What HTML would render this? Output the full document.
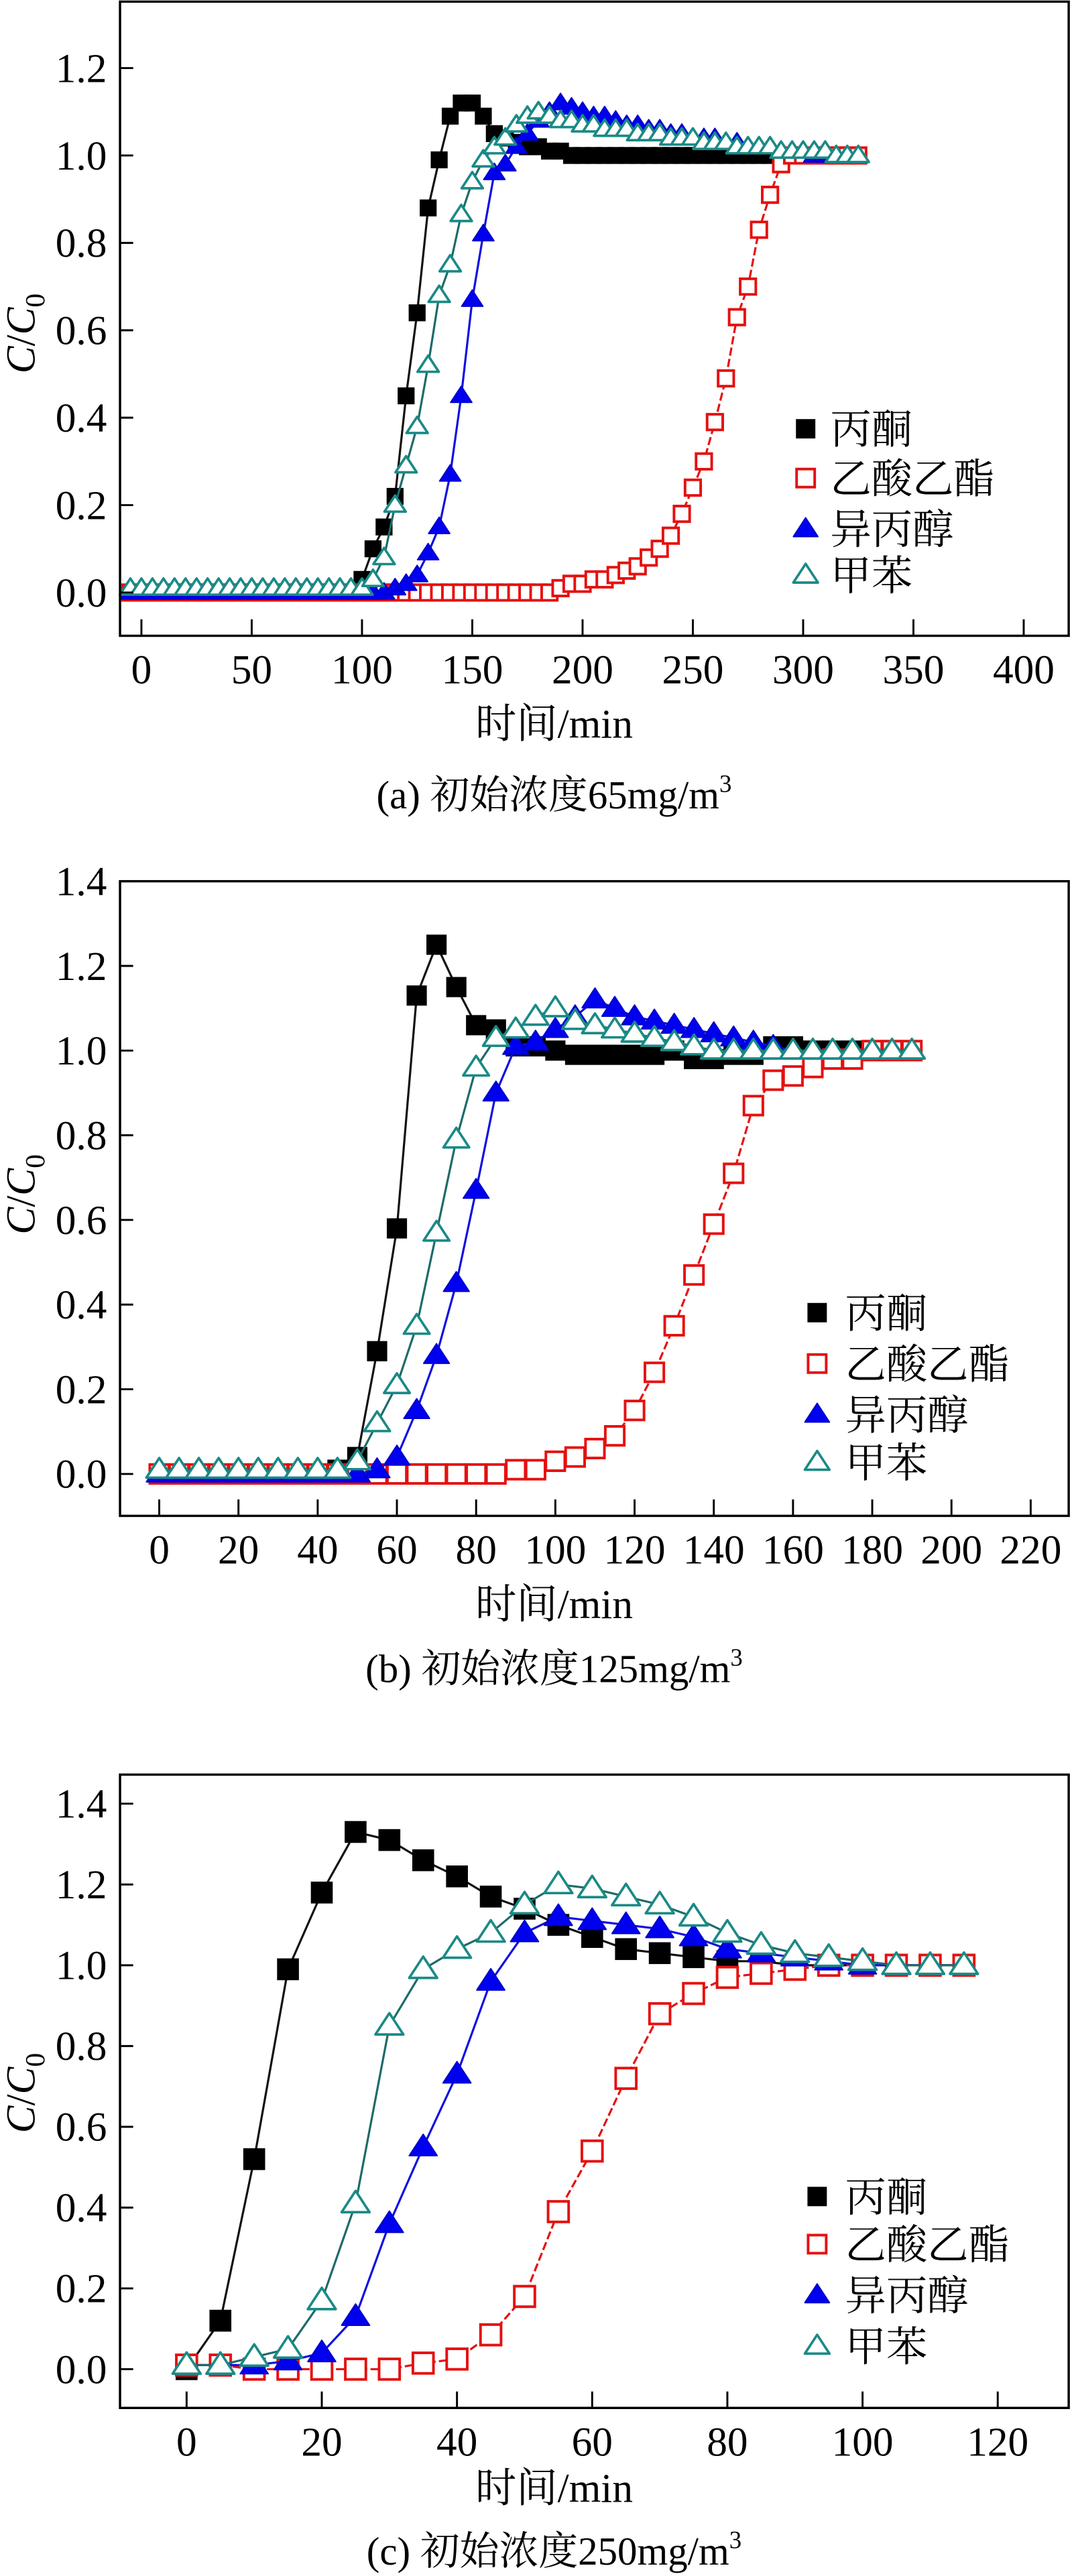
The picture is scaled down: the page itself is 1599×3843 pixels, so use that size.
<!DOCTYPE html>
<html><head><meta charset="utf-8"><title>Breakthrough curves</title>
<style>
html,body{margin:0;padding:0;background:#fff;}
svg{display:block;}
text{font-family:"Liberation Serif","Noto Serif CJK SC",serif;fill:#000;}
</style></head>
<body>
<svg id="fig" width="1599" height="3843" viewBox="0 0 652 1568" preserveAspectRatio="none" xmlns="http://www.w3.org/2000/svg"></svg>
<script>
// ---------- Panel (a) 65 mg/m3 ----------
const timesA = [-5,0,5,10,15,20,25,30,35,40,45,50,55,60,65,70,75,80,85,90,95,100,105,110,115,120,125,130,135,140,145,150,155,160,165,170,175,180,185,190,195,200,205,210,215,220,225,230,235,240,245,250,255,260,265,270,275,280,285,290,295,300,305,310,315,320,325];
const acetoneA = [0,0,0,0,0,0,0,0,0,0,0,0,0,0,0,0,0,0,0,0,0,
 0.03,0.1,0.15,0.22,0.45,0.64,0.88,0.99,1.09,1.12,1.12,1.09,1.05,1.04,1.03,1.02,1.02,1.01,1.01,1.0,
 1.0,1.0,1.0,1.0,1.0,1.0,1.0,1.0,1.0,1.0,1.0,1.0,1.0,1.0,1.0,1.0,1.0,1.0,1.0,1.0,1.0,1.0,1.0,1.0,1.0,1.0];
const ethylAcetateA = [0,0,0,0,0,0,0,0,0,0,0,0,0,0,0,0,0,0,0,0,0,0,0,0,0,0,0,0,0,0,0,0,0,0,0,0,0,0,0,
 0.01,0.02,0.02,0.03,0.03,0.04,0.05,0.06,0.08,0.1,0.13,0.18,0.24,0.3,0.39,0.49,0.63,0.7,0.83,0.91,0.98,
 1.0,1.0,1.0,1.0,1.0,1.0,1.0];
const isopropanolA = [0,0,0,0,0,0,0,0,0,0,0,0,0,0,0,0,0,0,0,0,0,0,0,0,
 0.01,0.02,0.04,0.09,0.15,0.27,0.45,0.67,0.82,0.96,0.98,1.02,1.05,1.08,1.1,1.12,
 1.11,1.1,1.09,1.09,1.08,1.07,1.07,1.06,1.06,1.05,1.05,1.04,1.04,1.04,1.03,1.03,1.02,1.02,1.02,1.01,1.01,1.01,1.0,1.0,1.0,1.0,1.0];
const tolueneA = [0.01,0.01,0.01,0.01,0.01,0.01,0.01,0.01,0.01,0.01,0.01,0.01,0.01,0.01,0.01,0.01,0.01,0.01,0.01,0.01,0.01,0.01,
 0.03,0.08,0.2,0.29,0.38,0.52,0.68,0.75,0.865,0.94,0.99,1.02,1.04,1.07,1.09,1.1,1.09,1.08,
 1.08,1.07,1.07,1.06,1.06,1.06,1.05,1.05,1.05,1.04,1.04,1.04,1.03,1.03,1.03,1.02,1.02,1.02,1.02,1.01,1.01,1.01,1.01,1.01,1.0,1.0,1.0];
const xTicksA = [0,50,100,150,200,250,300,350,400];
const yTicksA = [0.0,0.2,0.4,0.6,0.8,1.0,1.2];

// ---------- Panel (b) 125 mg/m3 ----------
const timesB = [0,5,10,15,20,25,30,35,40,45,50,55,60,65,70,75,80,85,90,95,100,105,110,115,120,125,130,135,140,145,150,155,160,165,170,175,180,185,190];
const acetoneB = [0,0,0,0,0,0,0,0,0,0.01,
 0.04,0.29,0.58,1.13,1.25,1.15,1.06,1.05,1.01,1.01,1.0,0.99,0.99,0.99,0.99,0.99,1.0,0.98,0.98,0.99,0.99,1.01,1.01,1.0,1.0,1.0,1.0,1.0,1.0];
const ethylAcetateB = [0,0,0,0,0,0,0,0,0,0,0,0,0,0,0,0,0,0,
 0.01,0.01,0.03,0.04,0.06,0.09,0.15,0.24,0.35,0.47,0.59,0.71,0.87,0.93,0.94,0.96,0.98,0.98,1.0,1.0,1.0];
const isopropanolB = [0,0,0,0,0,0,0,0,0,0,
 0.0,0.01,0.04,0.15,0.28,0.45,0.67,0.9,1.01,1.02,1.05,1.08,1.12,1.1,1.08,1.07,1.06,1.05,1.04,1.03,1.02,1.01,1.0,1.0,1.0,1.0,1.0,1.0,1.0];
const tolueneB = [0.01,0.01,0.01,0.01,0.01,0.01,0.01,0.01,0.01,
 0.01,0.03,0.12,0.21,0.35,0.57,0.79,0.96,1.03,1.05,1.08,1.1,1.07,1.06,1.05,1.04,1.03,1.02,1.01,1.0,
 1.0,1.0,1.0,1.0,1.0,1.0,1.0,1.0,1.0,1.0];
const xTicksB = [0,20,40,60,80,100,120,140,160,180,200,220];
const yTicksB = [0.0,0.2,0.4,0.6,0.8,1.0,1.2,1.4];

// ---------- Panel (c) 250 mg/m3 ----------
const timesC = [0,5,10,15,20,25,30,35,40,45,50,55,60,65,70,75,80,85,90,95,100,105,110,115];
const acetoneC = [0.0,0.12,0.52,0.99,1.18,1.33,1.31,1.26,1.22,1.17,1.14,1.1,1.07,1.04,1.03,1.02,1.01,1.01,1.0,1.0,1.0,1.0,1.0,1.0];
const ethylAcetateC = [0.01,0.01,0.0,0.0,0.0,0.0,0.0,0.015,0.025,0.085,0.18,0.39,0.54,0.72,0.88,0.93,0.97,0.98,0.99,1.0,1.0,1.0,1.0,1.0];
const isopropanolC = [0.01,0.01,0.01,0.02,0.04,0.13,0.36,0.55,0.73,0.96,1.08,1.12,1.11,1.1,1.09,1.07,1.04,1.03,1.02,1.01,1.0,1.0,1.0,1.0];
const tolueneC = [0.01,0.01,0.03,0.05,0.17,0.41,0.85,0.99,1.04,1.08,1.15,1.2,1.19,1.17,1.15,1.12,1.08,1.05,1.03,1.02,1.01,1.0,1.0,1.0];
const xTicksC = [0,20,40,60,80,100,120];
const yTicksC = [0.0,0.2,0.4,0.6,0.8,1.0,1.2,1.4];

const legendLabels = ["丙酮","乙酸乙酯","异丙醇","甲苯"];

const NS = "http://www.w3.org/2000/svg";
const svg = document.getElementById("fig");
function mk(tag, attrs, parent){
  const e = document.createElementNS(NS, tag);
  for (const k in attrs) e.setAttribute(k, attrs[k]);
  (parent||svg).appendChild(e);
  return e;
}
function fmt(v){ return v.toFixed(1); }

const styles = [
  {key:"acetone", line:"#111", marker:"fsquare", fill:"#000", stroke:"#000"},
  {key:"ethyl-acetate", line:"#e51010", marker:"osquare", fill:"#fff", stroke:"#e51010", dash:"5,2"},
  {key:"isopropanol", line:"#1010e0", marker:"ftri", fill:"#0000f0", stroke:"#0000c8"},
  {key:"toluene", line:"#1d6b68", marker:"otri", fill:"#fff", stroke:"#1a8a86"}
];

function marker(g, type, cx, cy, s, st){
  let m;
  if (type === "fsquare" || type === "osquare"){
    m = mk("rect", {x:cx-s/2, y:cy-s/2, width:s, height:s, fill:st.fill, stroke:st.stroke, "stroke-width": type==="osquare"?1.6:0.8}, g);
  } else {
    const h = s*1.0;
    m = mk("polygon", {points:`${cx},${cy-h*0.62} ${cx-s*0.68},${cy+h*0.42} ${cx+s*0.68},${cy+h*0.42}`, fill:st.fill, stroke:st.stroke, "stroke-width": type==="otri"?1.5:0.8, "stroke-linejoin":"round"}, g);
  }
  return m;
}

function drawPanel(p){
  const g = mk("g", {});
  
  
  const sx = v => p.box.l + (v - p.xd[0])/(p.xd[1]-p.xd[0])*(p.box.r-p.box.l);
  const sy = v => p.box.b - (v - p.yd[0])/(p.yd[1]-p.yd[0])*(p.box.b-p.box.t);

  p.series.forEach((vals, i) => {
    const st = styles[i];
    const sg = mk("g", {}, g);
    
    
    const pts = p.times.map((t,j)=> sx(t).toFixed(2)+","+sy(vals[j]).toFixed(2)).join(" ");
    const ln = mk("polyline", {points:pts, fill:"none", stroke:st.line, "stroke-width":1.3}, sg);
    if (st.dash) ln.setAttribute("stroke-dasharray", st.dash);
    
    
    p.times.forEach((t,j)=>{
      const m = marker(sg, st.marker, sx(t), sy(vals[j]), p.ms, st);
      
      
    });
  });

  const fr = mk("rect", {x:p.box.l, y:p.box.t, width:p.box.r-p.box.l, height:p.box.b-p.box.t, fill:"none", stroke:"#000", "stroke-width":1.4}, g);
  
  

  p.xt.forEach(v=>{
    const x = sx(v);
    const tk = mk("line", {x1:x, x2:x, y1:p.box.b, y2:p.box.b-10, stroke:"#000", "stroke-width":1.2}, g);
    
    
    const tl = mk("text", {x:x, y:p.box.b+29, "text-anchor":"middle", "font-size":25}, g);
    tl.textContent = String(v);
    
    
  });
  p.yt.forEach(v=>{
    const y = sy(v);
    const tk = mk("line", {x1:p.box.l, x2:p.box.l+8, y1:y, y2:y, stroke:"#000", "stroke-width":1.2}, g);
    
    
    const tl = mk("text", {x:65, y:y+8.5, "text-anchor":"end", "font-size":25}, g);
    tl.textContent = fmt(v);
    
    
  });
  const xt = mk("text", {x:337, y:p.xTitleY, "text-anchor":"middle", "font-size":25}, g);
  xt.textContent = "时间/min";
  
  
  const yt = mk("text", {x:0, y:0, "text-anchor":"middle", "font-size":25, transform:`translate(21,${p.yTitleY}) rotate(-90)`}, g);
  yt.innerHTML = '<tspan font-style="italic">C</tspan>/<tspan font-style="italic">C</tspan><tspan font-size="17" dy="6">0</tspan>';
  
  
  const cap = mk("text", {x:337, y:p.capY, "text-anchor":"middle", "font-size":24}, g);
  cap.innerHTML = p.caption + '<tspan font-size="15" dy="-10">3</tspan>';
  
  

  const lg = mk("g", {}, g);
  
  
  legendLabels.forEach((lab,i)=>{
    const y = p.leg.ys[i];
    const le = mk("g", {}, lg);
    
    
    marker(le, styles[i].marker, p.leg.mx, y, 11, styles[i]);
    const t = mk("text", {x:p.leg.tx, y:y+9, "font-size":25}, le);
    t.textContent = lab;
  });
}

drawPanel({name:"panel-a-65mg", times:timesA, series:[acetoneA, ethylAcetateA, isopropanolA, tolueneA],
  box:{l:73,r:650,t:1,b:387}, xd:[-9.7,420.4], yd:[-0.099,1.352], xt:xTicksA, yt:yTicksA, ms:9.5,
  xTitleY:449, yTitleY:203, capY:492, caption:"(a) 初始浓度65mg/m",
  leg:{mx:490, tx:505, ys:[261,291,322,350]}});
drawPanel({name:"panel-b-125mg", times:timesB, series:[acetoneB, ethylAcetateB, isopropanolB, tolueneB],
  box:{l:73,r:650,t:536.4,b:922.7}, xd:[-9.9,229.6], yd:[-0.099,1.4], xt:xTicksB, yt:yTicksB, ms:11.5,
  xTitleY:985, yTitleY:727, capY:1024, caption:"(b) 初始浓度125mg/m",
  leg:{mx:497, tx:514, ys:[799,830,861,890]}});
drawPanel({name:"panel-c-250mg", times:timesC, series:[acetoneC, ethylAcetateC, isopropanolC, tolueneC],
  box:{l:73,r:650,t:1080.2,b:1465.7}, xd:[-9.85,130.5], yd:[-0.096,1.472], xt:xTicksC, yt:yTicksC, ms:12.5,
  xTitleY:1523, yTitleY:1274, capY:1561, caption:"(c) 初始浓度250mg/m",
  leg:{mx:497, tx:514, ys:[1337,1366,1397,1428]}});
</script>
</body></html>
